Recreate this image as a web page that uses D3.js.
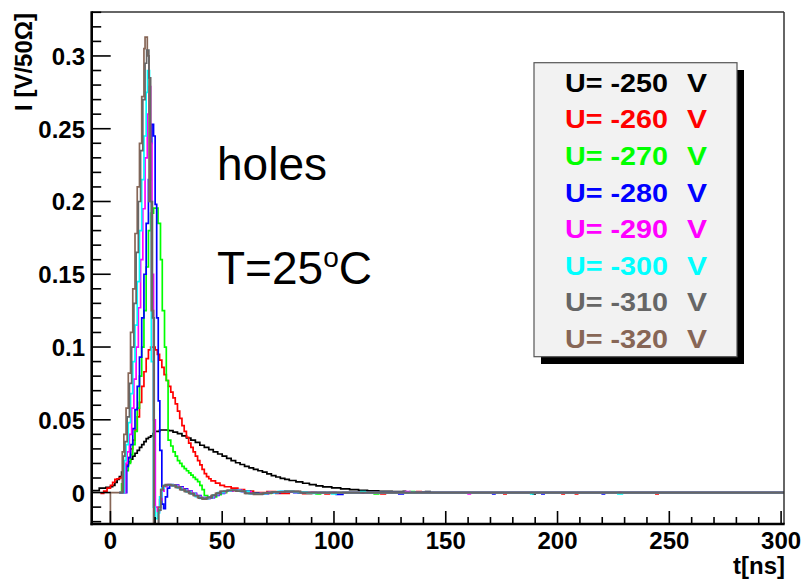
<!DOCTYPE html>
<html>
<head>
<meta charset="utf-8">
<script src="https://cdn.jsdelivr.net/npm/d3@7"></script>
<style>
  body { margin: 0; background: #fff; }
  svg { display: block; font-family: "Liberation Sans", Arial, Helvetica, sans-serif; }
</style>
</head>
<body>
<svg id="chart" width="801" height="580"></svg>
<script>
// Bias voltages and the ROOT-style line colours of each current pulse
const voltages = ["-250", "-260", "-270", "-280", "-290", "-300", "-310", "-320"];
const colors = ["#000000", "#ff0000", "#00ff00", "#0000ff", "#ff00ff", "#00ffff", "#666666", "#876656"];
const xTicks = [0, 50, 100, 150, 200, 250, 300];
const yTicks = [0, 0.05, 0.1, 0.15, 0.2, 0.25, 0.3];

// Histogram contents: [bin low edge t (ns), current I (V/50 Ohm)]
const u250 = [[-8.4,0.0014],[-5,0.003],[-2,0.0035],[0,0.004],[1,0.005],[2,0.007],[3,0.009],[4,0.011],[5,0.014],[6,0.017],[7,0.019],[8,0.021],[9,0.023],[10,0.025],[11,0.027],[12,0.029],[13,0.031],[14,0.033],[15,0.035],[16,0.037],[17,0.038],[18,0.039],[19,0.0405],[20,0.042],[22,0.043],[26,0.0425],[28,0.0415],[30,0.0405],[32,0.039],[34,0.0375],[36,0.036],[38,0.0345],[40,0.0325],[42,0.031],[44,0.0295],[46,0.028],[48,0.0265],[50,0.025],[52,0.0235],[54,0.022],[56,0.0205],[58,0.0193],[60,0.018],[62,0.017],[64,0.016],[66,0.015],[68,0.014],[70,0.0128],[72,0.0117],[74,0.0107],[76,0.0097],[78,0.009],[80,0.0083],[83,0.0074],[86,0.0064],[89,0.0055],[92,0.0046],[95,0.0039],[99,0.0032],[103,0.0026],[107,0.002],[111,0.0016],[115,0.0012],[120,0.0009],[126,0.0006],[131,0.0009],[132,0.0004],[140,0.0003],[141,0.0006],[143,0],[189,-0.001],[190,0],[301.3,0]];
const u260 = [[-4.5,-0.0005],[-3,0.001],[-1.5,0.003],[0,0.005],[1,0.007],[2,0.009],[3,0.0095],[4,0.01],[5,0.011],[6,0.014],[7,0.019],[8,0.024],[9,0.03],[10,0.036],[11,0.043],[12,0.052],[13,0.062],[14,0.073],[15,0.083],[16,0.092],[17,0.098],[18,0.1],[19,0.1],[20,0.098],[21,0.095],[22,0.091],[23,0.086],[24,0.081],[25,0.077],[26,0.073],[27,0.069],[28,0.065],[29,0.061],[30,0.056],[31,0.051],[32,0.046],[33,0.042],[34,0.038],[35,0.034],[36,0.031],[37,0.028],[38,0.025],[39,0.022],[40,0.019],[41,0.016],[42,0.013],[43,0.011],[44,0.0095],[45,0.008],[47,0.0065],[49,0.005],[51,0.004],[54,0.003],[57,0.002],[60,0.001],[64,0],[70,0.0006],[74,-0.0006],[80,0.0004],[86,-0.0008],[90,0],[96,-0.001],[98,0],[121,-0.001],[123,0],[137,0.0006],[139,0],[176,-0.001],[177,0],[202,-0.001],[203,0],[208,-0.001],[209,0],[244,-0.001],[245,0],[301.3,0]];
const u270 = [[4,0],[5,0.006],[6,0.011],[7,0.015],[8,0.02],[9,0.026],[10,0.033],[11,0.042],[12,0.058],[13,0.08],[14,0.1],[15,0.125],[16,0.155],[17,0.18],[18,0.192],[19.3,0.1955],[21.3,0.185],[22.4,0.16],[23.2,0.125],[24.2,0.1],[25,0.077],[25.8,0.036],[27,0.032],[28,0.028],[29,0.025],[30,0.022],[31,0.02],[32,0.018],[33,0.0165],[34,0.015],[35,0.0135],[36,0.012],[37,0.0105],[38,0.009],[39,0.0075],[40,0.005],[41,0.002],[42,-0.002],[43.5,-0.0035],[45.5,-0.003],[47.5,-0.0015],[49.5,0],[52,0.0012],[55,0.0016],[59,0.0008],[63,-0.0006],[67,-0.0005],[72,0.0003],[78,0.0007],[84,0],[92,-0.001],[94,0],[118,-0.001],[120,0],[134,0.0006],[136,0],[301.3,0]];
const u280 = [[4,0],[7.3,0.018],[8,0.024],[9,0.033],[10,0.044],[11,0.057],[12,0.073],[13,0.093],[14,0.12],[15,0.15],[16,0.185],[17,0.215],[18,0.24],[18.5,0.253],[19.3,0.245],[20,0.198],[20.7,0.12],[21.4,0.063],[22.1,0.029],[23,-0.008],[23.8,-0.011],[24.6,-0.003],[25.5,0.003],[26.5,0.005],[28.5,0.0052],[30.5,0.004],[32.5,0.0025],[34.5,0.001],[36.5,-0.0005],[38.5,-0.002],[40.5,-0.0035],[42.5,-0.004],[44.5,-0.0035],[46.5,-0.002],[48.5,-0.0005],[51,0.001],[54.5,0.0016],[58.5,0.0008],[62.5,-0.0006],[66.5,-0.0008],[70.5,0],[76,0.0006],[82,0],[101,-0.0012],[104,0],[129,-0.001],[131,0],[171,-0.001],[172,0],[193,-0.001],[194,0],[220,-0.001],[221,0],[301.3,0]];
const u290 = [[4,0],[6.8,0.02],[7.5,0.028],[8.5,0.04],[9.5,0.058],[10.5,0.078],[11.5,0.1],[12.5,0.127],[13.5,0.16],[14.5,0.195],[15.5,0.23],[16.5,0.26],[17.2,0.279],[18,0.24],[18.6,0.15],[19.3,0.05],[20.1,-0.01],[21,-0.013],[22,-0.005],[23,0.001],[24,0.004],[25.5,0.0055],[28,0.0047],[30.5,0.0034],[32.5,0.002],[34.5,0.0006],[36.5,-0.001],[38.5,-0.0026],[40.5,-0.0038],[42.5,-0.004],[44.5,-0.003],[46.5,-0.0015],[48.5,0],[51.5,0.0012],[55,0.0015],[59,0.0006],[63,-0.0008],[67,-0.0006],[71,0.0002],[77,0.0007],[84,0.0002],[88,0],[132,0.0006],[134,0],[160,-0.001],[161,0],[301.3,0]];
const u300 = [[4,0],[6.3,0.022],[7,0.033],[8,0.048],[9,0.068],[10,0.09],[11,0.115],[12,0.145],[13,0.18],[14,0.215],[15,0.245],[16,0.275],[16.6,0.29],[17.5,0.2],[18.3,0.09],[19.2,-0.01],[20,-0.018],[21,-0.014],[22,-0.003],[23,0.003],[24,0.005],[26,0.0055],[28,0.0045],[30,0.0032],[32,0.0018],[34,0.0005],[36,-0.001],[38,-0.0028],[40,-0.004],[42,-0.0042],[44,-0.003],[46,-0.0015],[48,0],[51,0.0012],[54,0.0016],[58,0.0008],[62,-0.0008],[66,-0.0008],[70,0],[75,0.0008],[82,0.0004],[88,-0.0006],[92,0],[99,-0.001],[101,0],[112,0.0006],[114,0],[188,-0.001],[189,0],[227,-0.001],[229,0],[301.3,0]];
const u310 = [[4,0],[5.8,0.025],[6.5,0.035],[7.5,0.052],[8.5,0.075],[9.5,0.1],[10.5,0.13],[11.5,0.165],[12.5,0.2],[13.5,0.235],[14.5,0.27],[15.5,0.295],[16.2,0.304],[17.2,0.285],[18,0.2],[18.8,0.12],[19.6,-0.05],[20.6,-0.035],[21.6,-0.012],[22.6,0.002],[23.6,0.0048],[25,0.0052],[27.5,0.0048],[29.5,0.0035],[31.5,0.002],[33.5,0.0007],[35.5,-0.0008],[37.5,-0.0022],[39.5,-0.0038],[41.5,-0.0042],[43.5,-0.0032],[45.5,-0.0018],[47.5,-0.0004],[49.5,0.0009],[52.5,0.0016],[56.5,0.0009],[60.5,-0.0006],[64.5,-0.001],[68.5,-0.0003],[72.5,0.0005],[78,0.0007],[85,0],[301.3,0]];
const u320 = [[0,0],[5.3,0.028],[6,0.04],[7,0.058],[8,0.082],[9,0.11],[10,0.14],[11,0.178],[12,0.21],[13,0.24],[14,0.272],[15,0.305],[15.5,0.313],[16.5,0.3],[17.3,0.2],[18.3,0.125],[19.3,-0.05],[20.5,-0.03],[21.5,-0.01],[22.5,0.002],[23.5,0.0045],[24.5,0.0055],[27,0.005],[29,0.0035],[31,0.002],[33,0.0008],[35,-0.0005],[37,-0.002],[39,-0.0035],[41,-0.0045],[43,-0.0035],[45,-0.002],[47,-0.0005],[49,0.0008],[52,0.0015],[56,0.001],[60,-0.0005],[64,-0.0012],[68,-0.0004],[72,0.0005],[78,0.0008],[85,0],[301.3,0]];

const series = [u250, u260, u270, u280, u290, u300, u310, u320];
// drawing order: brown before grey so the grey baseline lies on top
const drawOrder = [0, 1, 2, 3, 4, 5, 7, 6];

const svg = d3.select("#chart");
const frameL = 91.7, frameR = 784, frameT = 12, frameB = 524;

const x = d3.scaleLinear().domain([-8.37, 301.3]).range([frameL, frameR]);
const y = d3.scaleLinear().domain([-0.0216, 0.3302]).range([frameB, frameT]);

svg.append("rect").attr("width", 801).attr("height", 580).attr("fill", "#fff");

svg.append("defs").append("clipPath").attr("id", "plotClip")
  .append("rect").attr("x", frameL).attr("y", frameT)
  .attr("width", frameR - frameL).attr("height", frameB - frameT);

const plot = svg.append("g").attr("clip-path", "url(#plotClip)");

const line = d3.line()
  .x(d => x(d[0]))
  .y(d => y(d[1]))
  .curve(d3.curveStepAfter);

drawOrder.forEach(i => {
  const data = series[i];
  let path = line(data);
  if (i === 7) {
    // this histogram's outline starts from the frame floor at its first bin edge
    path = `M${x(data[0][0])},${frameB + 2}L` + path.slice(1);
  }
  plot.append("path")
    .attr("d", path)
    .attr("fill", "none")
    .attr("stroke", colors[i])
    .attr("stroke-width", 1.7)
    .attr("stroke-linejoin", "miter");
});

// frame
svg.append("line").attr("x1", frameL).attr("x2", frameR).attr("y1", frameT).attr("y2", frameT)
  .attr("stroke", "#333").attr("stroke-width", 1.5);
svg.append("line").attr("x1", frameR).attr("x2", frameR).attr("y1", frameT).attr("y2", frameB)
  .attr("stroke", "#333").attr("stroke-width", 1.5);

// ticks (drawn inside the frame)
const yMinor = d3.range(-0.02, 0.3301, 0.01).map(v => +v.toFixed(2));
const ag = svg.append("g");
yMinor.forEach(v => {
  const major = yTicks.some(t => Math.abs(t - v) < 1e-6);
  ag.append("line").attr("x1", frameL).attr("x2", frameL + (major ? 19 : 9.5))
    .attr("y1", y(v)).attr("y2", y(v)).attr("stroke", "#000").attr("stroke-width", 1.6);
});
const xMinor = d3.range(0, 301, 10);
xMinor.forEach(v => {
  const major = xTicks.includes(v);
  ag.append("line").attr("x1", x(v)).attr("x2", x(v))
    .attr("y1", frameB).attr("y2", frameB - (major ? 13 : 7))
    .attr("stroke", "#000").attr("stroke-width", 1.6);
});

// axis lines
svg.append("line").attr("x1", frameL).attr("x2", frameL).attr("y1", frameT - 0.7).attr("y2", frameB + 1.2)
  .attr("stroke", "#000").attr("stroke-width", 2.6);
svg.append("line").attr("x1", frameL - 1.2).attr("x2", frameR + 0.7).attr("y1", frameB).attr("y2", frameB)
  .attr("stroke", "#000").attr("stroke-width", 2.6);

// tick labels
svg.append("g").selectAll("text").data(yTicks).join("text")
  .attr("x", 85).attr("y", d => y(d) + 9)
  .attr("text-anchor", "end")
  .attr("font-size", 24).attr("font-weight", "bold")
  .text(d => d3.format("~g")(d));

svg.append("g").selectAll("text").data(xTicks).join("text")
  .attr("x", d => x(d)).attr("y", 549)
  .attr("text-anchor", "middle")
  .attr("font-size", 24).attr("font-weight", "bold")
  .text(d => d);

// axis titles
svg.append("text")
  .attr("transform", "translate(32,13) rotate(-90)")
  .attr("text-anchor", "end")
  .attr("font-size", 24).attr("font-weight", "bold")
  .text("I [V/50Ω]");
svg.append("text")
  .attr("x", 785).attr("y", 574)
  .attr("text-anchor", "end")
  .attr("font-size", 24).attr("font-weight", "bold")
  .text("t[ns]");

// annotations
svg.append("text").attr("x", 217).attr("y", 180)
  .attr("font-size", 46).text("holes");
const tl = svg.append("text").attr("x", 217).attr("y", 284).attr("font-size", 46);
tl.append("tspan").text("T=25");
tl.append("tspan").attr("font-size", 28).attr("dy", -17).text("o");
tl.append("tspan").attr("dy", 17).text("C");

// legend
const lg = svg.append("g");
lg.append("rect").attr("x", 541).attr("y", 70).attr("width", 203).attr("height", 294).attr("fill", "#000");
lg.append("rect").attr("x", 534).attr("y", 62.7).attr("width", 203).attr("height", 294)
  .attr("fill", "#f2f2f2").attr("stroke", "#555").attr("stroke-width", 1.2);
voltages.forEach((v, i) => {
  const by = 91.7 + i * 36.6;
  lg.append("text").attr("x", 565).attr("y", by)
    .attr("font-size", 26).attr("font-weight", "bold").attr("fill", colors[i])
    .attr("textLength", 103).attr("lengthAdjust", "spacingAndGlyphs")
    .text(`U= ${v}`);
  lg.append("text").attr("x", 687).attr("y", by)
    .attr("font-size", 26).attr("font-weight", "bold").attr("fill", colors[i])
    .attr("textLength", 20).attr("lengthAdjust", "spacingAndGlyphs")
    .text("V");
});
</script>
</body>
</html>
